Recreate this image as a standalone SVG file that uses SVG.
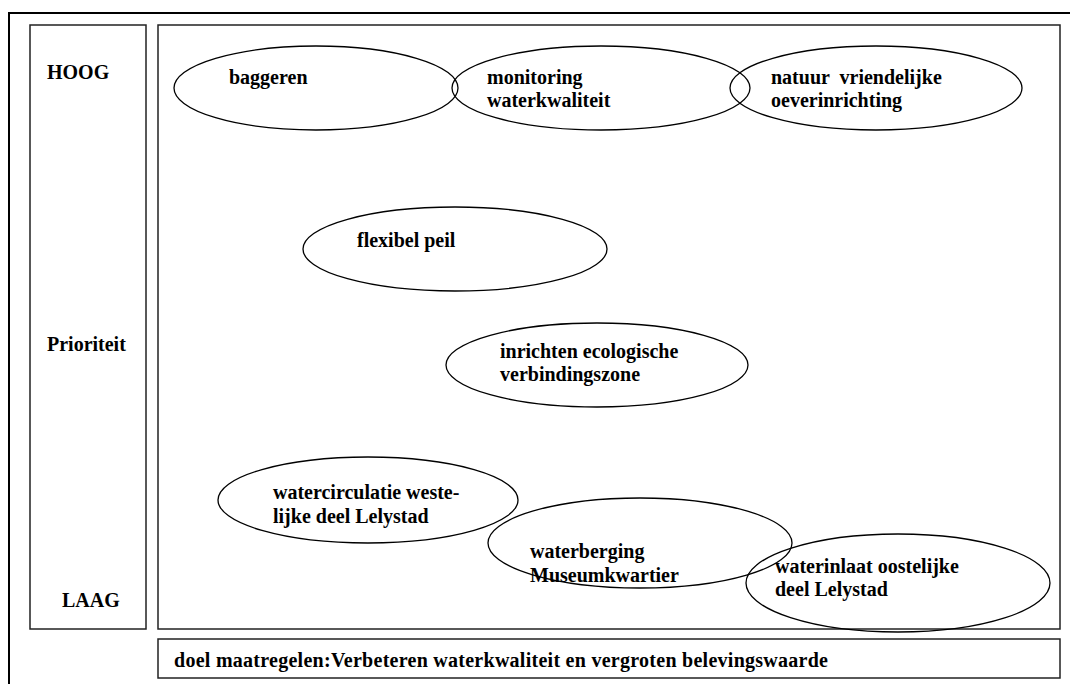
<svg xmlns="http://www.w3.org/2000/svg" width="1070" height="684" viewBox="0 0 1070 684">
<style>
.box{fill:none;stroke:#222;stroke-width:1.5}
.frame{fill:none;stroke:#000;stroke-width:2}
.el{fill:none;stroke:#000;stroke-width:1.3}
text{font-family:"Liberation Serif","Times New Roman",serif;font-weight:bold;font-size:20px;fill:#000;white-space:pre}
</style>
<rect width="1070" height="684" fill="#fff"/>
<g id="frame">
<polyline class="frame" points="9,684 9,13 1070,13"/>
</g>
<g id="axis">
<rect class="box" x="30" y="25" width="116" height="604"/>
<text x="47" y="79">HOOG</text>
<text x="47" y="351">Prioriteit</text>
<text x="62" y="607">LAAG</text>
</g>
<g id="chart">
<rect class="box" x="158" y="25" width="902" height="604"/>
</g>
<g id="goal">
<rect class="box" x="158" y="639" width="902" height="39"/>
<text x="174" y="667" textLength="654" lengthAdjust="spacing">doel maatregelen:Verbeteren waterkwaliteit en vergroten belevingswaarde</text>
</g>
<g id="connectors"></g>
<g id="baggeren">
<ellipse class="el" cx="316" cy="88" rx="142" ry="42"/>
<text x="229" y="84">baggeren</text>
</g>
<g id="monitoring">
<ellipse class="el" cx="601" cy="88" rx="149" ry="42"/>
<text x="487" y="84">monitoring</text>
<text x="487" y="107">waterkwaliteit</text>
</g>
<g id="natuur">
<ellipse class="el" cx="876" cy="88" rx="146" ry="42"/>
<text x="771" y="84">natuur  vriendelijke</text>
<text x="771" y="107">oeverinrichting</text>
</g>
<g id="flexibel">
<ellipse class="el" cx="455" cy="249" rx="152" ry="42"/>
<text x="357" y="247">flexibel peil</text>
</g>
<g id="inrichten">
<ellipse class="el" cx="597" cy="365" rx="151" ry="42"/>
<text x="500" y="358">inrichten ecologische</text>
<text x="500" y="381">verbindingszone</text>
</g>
<g id="watercirculatie">
<ellipse class="el" cx="368" cy="500" rx="150" ry="43"/>
<text x="273" y="499">watercirculatie weste-</text>
<text x="273" y="523">lijke deel Lelystad</text>
</g>
<g id="waterberging">
<ellipse class="el" cx="640" cy="543" rx="152" ry="45"/>
<text x="530" y="558">waterberging</text>
<text x="530" y="582">Museumkwartier</text>
</g>
<g id="waterinlaat">
<ellipse class="el" cx="898" cy="583" rx="152" ry="49"/>
<text x="775" y="573">waterinlaat oostelijke</text>
<text x="775" y="596">deel Lelystad</text>
</g>
</svg>
